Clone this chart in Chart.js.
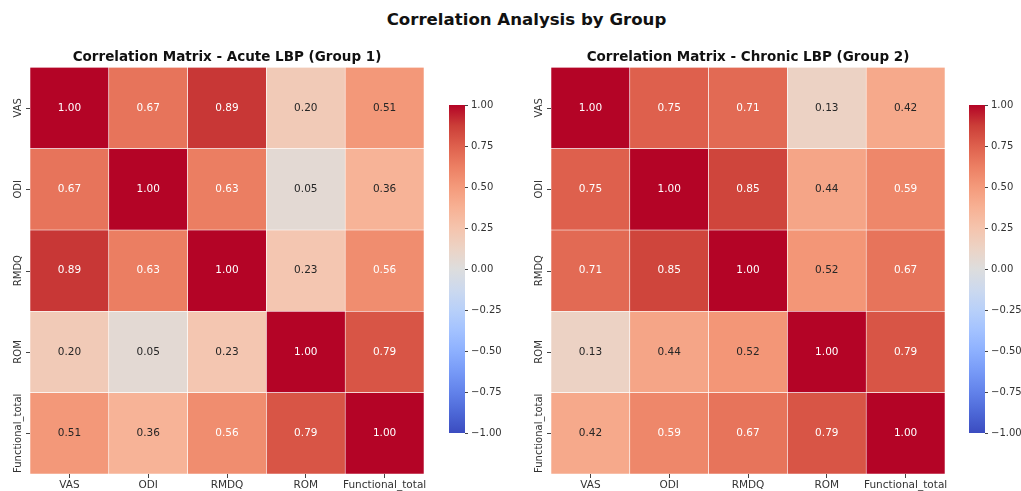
<!DOCTYPE html>
<html>
<head>
<meta charset="utf-8">
<script src="https://cdn.jsdelivr.net/npm/chart.js@4.4.0/dist/chart.umd.min.js"></script>
<style>
  body { margin: 0; background: #fff; width: 1021px; height: 491px; overflow: hidden; position: relative; font-family: "DejaVu Sans", sans-serif; }
  #mainTitle { position: absolute; left: 16px; top: 10px; width: 1021px; text-align: center; font-weight: bold; font-size: 16.6px; color: #111; }
  canvas { position: absolute; }
</style>
</head>
<body>
<div id="mainTitle">Correlation Analysis by Group</div>
<canvas id="heatAcute" width="440" height="451" style="left:0;top:40px"></canvas>
<canvas id="barAcute" width="78" height="350" style="left:440px;top:95px"></canvas>
<canvas id="heatChronic" width="440" height="451" style="left:521px;top:40px"></canvas>
<canvas id="barChronic" width="61" height="350" style="left:960px;top:95px"></canvas>
<script>
// variabel yang dikorelasikan
const rowLabels = ["VAS", "ODI", "RMDQ", "ROM", "Functional_total"];
const colLabels = ["VAS", "ODI", "RMDQ", "ROM", "Functional_total"];

// matriks korelasi kelompok 1 (akut)
const acuteMatrix = [
  [1.00, 0.67, 0.89, 0.20, 0.51],
  [0.67, 1.00, 0.63, 0.05, 0.36],
  [0.89, 0.63, 1.00, 0.23, 0.56],
  [0.20, 0.05, 0.23, 1.00, 0.79],
  [0.51, 0.36, 0.56, 0.79, 1.00]
];

// matriks korelasi kelompok 2 (kronis)
const chronicMatrix = [
  [1.00, 0.75, 0.71, 0.13, 0.42],
  [0.75, 1.00, 0.85, 0.44, 0.59],
  [0.71, 0.85, 1.00, 0.52, 0.67],
  [0.13, 0.44, 0.52, 1.00, 0.79],
  [0.42, 0.59, 0.67, 0.79, 1.00]
];

// tick colorbar
const colorbarTicks = [-1.00, -0.75, -0.50, -0.25, 0.00, 0.25, 0.50, 0.75, 1.00];

const FONT = "'DejaVu Sans', sans-serif";

// palet coolwarm (titik kontrol tiap 1/16)
const coolwarmStops = [
  [59, 76, 192], [77, 104, 215], [98, 130, 234], [119, 154, 247],
  [141, 176, 254], [163, 194, 255], [184, 208, 249], [204, 217, 238],
  [221, 221, 221], [236, 211, 197], [245, 196, 173], [247, 177, 148],
  [244, 154, 123], [236, 127, 99], [222, 96, 77], [203, 62, 56],
  [180, 4, 38]
];

function coolwarmRGB(v) {
  const t = Math.min(1, Math.max(0, (v + 1) / 2)) * (coolwarmStops.length - 1);
  const i = Math.min(Math.floor(t), coolwarmStops.length - 2);
  const f = t - i;
  const a = coolwarmStops[i], b = coolwarmStops[i + 1];
  return a.map((c, k) => Math.round(c + (b[k] - c) * f));
}

function coolwarm(v) {
  const [r, g, b] = coolwarmRGB(v);
  return `rgb(${r},${g},${b})`;
}

// warna teks ala seaborn: putih kalau sel gelap
function textColor(v) {
  const lin = coolwarmRGB(v).map(c => {
    c /= 255;
    return c <= 0.03928 ? c / 12.92 : Math.pow((c + 0.055) / 1.055, 2.4);
  });
  const lum = 0.2126 * lin[0] + 0.7152 * lin[1] + 0.0722 * lin[2];
  return lum > 0.408 ? "#262626" : "#ffffff";
}

// angka di tiap sel + label sumbu y yang diputar
const cellText = {
  id: "cellText",
  afterDatasetsDraw(chart) {
    const ctx = chart.ctx;
    ctx.save();
    ctx.font = "10.5px " + FONT;
    ctx.textAlign = "center";
    ctx.textBaseline = "middle";
    chart.data.datasets.forEach((ds, i) => {
      chart.getDatasetMeta(i).data.forEach((bar, j) => {
        const v = ds.values[j];
        const p = bar.getCenterPoint();
        ctx.fillStyle = textColor(v);
        ctx.fillText(v.toFixed(2), p.x, p.y);
      });
    });

    const ys = chart.scales.y;
    const left = chart.chartArea.left;
    ctx.strokeStyle = "#444";
    ctx.lineWidth = 1;
    ctx.fillStyle = "#333";
    ctx.font = "10px " + FONT;
    rowLabels.forEach((label, i) => {
      const y = ys.getPixelForValue(i + 0.5);
      ctx.beginPath();
      ctx.moveTo(left - 4, Math.round(y) + 0.5);
      ctx.lineTo(left, Math.round(y) + 0.5);
      ctx.stroke();
      ctx.save();
      ctx.translate(left - 12, y);
      ctx.rotate(-Math.PI / 2);
      ctx.fillText(label, 0, 0);
      ctx.restore();
    });
    ctx.restore();
  }
};

function buildHeatmap(canvasId, title, matrix) {
  const datasets = rowLabels.map((row, i) => ({
    label: row,
    data: colLabels.map(() => [i, i + 1]),
    values: matrix[i],
    backgroundColor: matrix[i].map(v => coolwarm(v)),
    borderColor: "#ffffff",
    borderWidth: 0.6,
    borderSkipped: false,
    grouped: false,
    barPercentage: 1,
    categoryPercentage: 1
  }));

  return new Chart(document.getElementById(canvasId), {
    type: "bar",
    data: { labels: colLabels, datasets },
    options: {
      responsive: false,
      animation: false,
      layout: { padding: { left: 0, right: 16, top: 0, bottom: 0 } },
      plugins: {
        legend: { display: false },
        tooltip: { enabled: false },
        title: {
          display: true,
          fullSize: false,
          text: title,
          color: "#111",
          font: { family: FONT, size: 13.5, weight: "bold" },
          padding: { top: 9, bottom: 2 }
        }
      },
      scales: {
        x: {
          type: "category",
          offset: true,
          grid: { display: true, drawOnChartArea: false, drawTicks: true, tickLength: 4, offset: false, color: "#444" },
          border: { display: false },
          ticks: { color: "#333", font: { family: FONT, size: 10.5 }, padding: 1, maxRotation: 0, autoSkip: false },
          afterFit(scale) { scale.height = 17; }
        },
        y: {
          type: "linear",
          min: 0,
          max: rowLabels.length,
          reverse: true,
          grid: { display: false },
          border: { display: false },
          ticks: { display: false },
          afterFit(scale) { scale.width = 30; }
        }
      }
    },
    plugins: [cellText]
  });
}

function buildColorbar(canvasId, axisWidth) {
  return new Chart(document.getElementById(canvasId), {
    type: "bar",
    data: {
      labels: [""],
      datasets: [{
        data: [[colorbarTicks[0], colorbarTicks[colorbarTicks.length - 1]]],
        backgroundColor(c) {
          const area = c.chart.chartArea;
          if (!area) return "#ddd";
          const g = c.chart.ctx.createLinearGradient(0, area.bottom, 0, area.top);
          coolwarmStops.forEach((s, k) => g.addColorStop(k / (coolwarmStops.length - 1), `rgb(${s[0]},${s[1]},${s[2]})`));
          return g;
        },
        borderWidth: 0,
        barPercentage: 1,
        categoryPercentage: 1
      }]
    },
    options: {
      responsive: false,
      animation: false,
      layout: { padding: { left: 9, top: 10, bottom: 12, right: 0 } },
      plugins: { legend: { display: false }, tooltip: { enabled: false } },
      scales: {
        x: { display: false },
        y: {
          position: "right",
          min: colorbarTicks[0],
          max: colorbarTicks[colorbarTicks.length - 1],
          afterBuildTicks(scale) { scale.ticks = colorbarTicks.map(v => ({ value: v })); },
          ticks: {
            color: "#333",
            font: { family: FONT, size: 10 },
            padding: 3,
            callback: v => (v < 0 ? "\u2212" : "") + Math.abs(v).toFixed(2)
          },
          grid: { drawOnChartArea: false, tickLength: 3, color: "#444" },
          border: { display: false },
          afterFit(scale) { scale.width = axisWidth; }
        }
      }
    }
  });
}

buildHeatmap("heatAcute", "Correlation Matrix - Acute LBP (Group 1)", acuteMatrix);
buildColorbar("barAcute", 53);
buildHeatmap("heatChronic", "Correlation Matrix - Chronic LBP (Group 2)", chronicMatrix);
buildColorbar("barChronic", 36);
</script>
</body>
</html>
